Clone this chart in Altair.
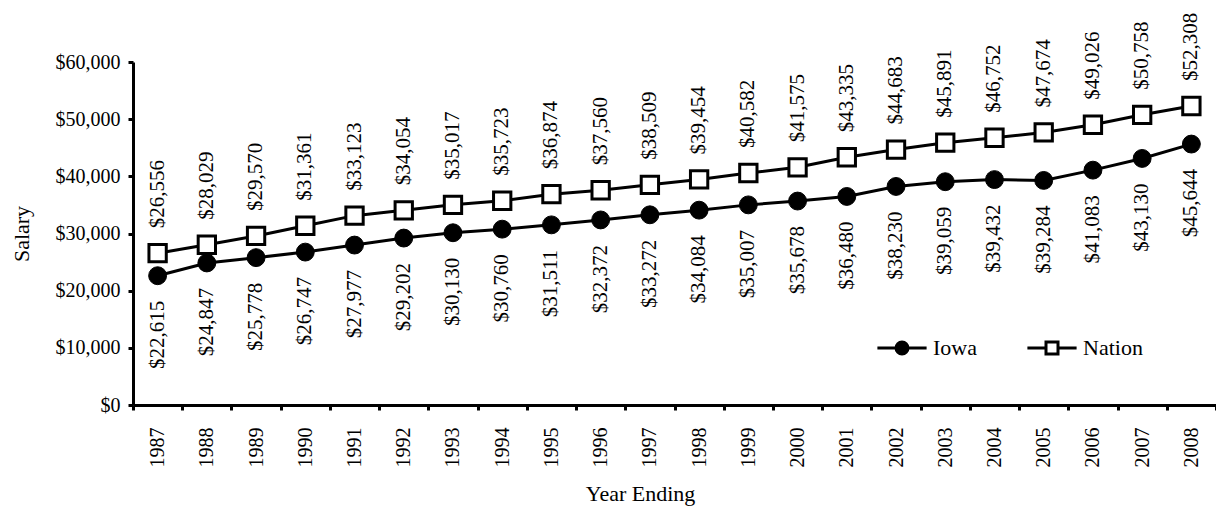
import altair as alt
import pandas as pd

years = [str(y) for y in range(1987, 2009)]
iowa = [22615, 24847, 25778, 26747, 27977, 29202, 30130, 30760, 31511, 32372, 33272,
        34084, 35007, 35678, 36480, 38230, 39059, 39432, 39284, 41083, 43130, 45644]
nation = [26556, 28029, 29570, 31361, 33123, 34054, 35017, 35723, 36874, 37560, 38509,
          39454, 40582, 41575, 43335, 44683, 45891, 46752, 47674, 49026, 50758, 52308]
series_names = ["Iowa", "Nation"]

rows = []
for y, a, b in zip(years, iowa, nation):
    rows.append({"year": y, "series": "Iowa", "salary": a})
    rows.append({"year": y, "series": "Nation", "salary": b})
df = pd.DataFrame(rows)

FONT = "Liberation Serif"

x = alt.X("year:O", scale=alt.Scale(type="band", paddingInner=0, paddingOuter=0),
          axis=alt.Axis(title="Year Ending", labelAngle=270, tickBand="extent",
                        labelPadding=17, labelFontSize=20, titleFontSize=22,
                        titleX=507, titleY=88, titleBaseline="middle"))
y = alt.Y("salary:Q", scale=alt.Scale(domain=[0, 60000], nice=False),
          axis=alt.Axis(title="Salary", values=[0, 10000, 20000, 30000, 40000, 50000, 60000],
                        format="$,.0f", labelFontSize=20, labelPadding=8,
                        titleFontSize=22, titleAngle=270, titleX=-112, titleY=171.5,
                        titleBaseline="middle", titleAlign="center"))

base = alt.Chart(df)

lines = base.mark_line(color="black", strokeWidth=3).encode(x=x, y=y, detail="series:N")

iowa_pts = base.transform_filter(alt.datum.series == "Iowa").mark_point(
    shape="circle", filled=True, fill="black", stroke="black", strokeWidth=1, size=320, opacity=1
).encode(x=x, y=y)

nation_pts = base.transform_filter(alt.datum.series == "Nation").mark_point(
    shape="square", filled=True, fill="white", stroke="black", strokeWidth=3, size=300, opacity=1
).encode(x=x, y=y)

iowa_txt = base.transform_filter(alt.datum.series == "Iowa").mark_text(
    angle=270, align="right", baseline="middle", dx=-25, font=FONT, fontSize=21, color="black"
).encode(x=x, y=y, text=alt.Text("salary:Q", format="$,.0f"))

nation_txt = base.transform_filter(alt.datum.series == "Nation").mark_text(
    angle=270, align="left", baseline="middle", dx=25, font=FONT, fontSize=21, color="black"
).encode(x=x, y=y, text=alt.Text("salary:Q", format="$,.0f"))

iowa_path = "M-4.1,0L-1,0M1,0L4.1,0M-1,0A1,1,0,1,1,1,0A1,1,0,1,1,-1,0Z"
nation_path = "M-4.1,0L-1,0M1,0L4.1,0M-1,-1L1,-1L1,1L-1,1Z"

leg = alt.Legend(title=None, orient="none", direction="horizontal", legendX=758, legendY=275,
                 symbolSize=144, symbolStrokeWidth=3, symbolOpacity=1,
                 labelFont=FONT, labelFontSize=22, labelOffset=20, columnPadding=44, padding=0,
                 labelColor="black")

legend_layer = base.transform_filter("false").mark_point(
    filled=True, strokeWidth=3, opacity=1
).encode(
    shape=alt.Shape("series:N", scale=alt.Scale(domain=series_names, range=[iowa_path, nation_path]), legend=leg),
    fill=alt.Fill("series:N", scale=alt.Scale(domain=series_names, range=["black", "white"]), legend=leg),
    stroke=alt.Stroke("series:N", scale=alt.Scale(domain=series_names, range=["black", "black"]), legend=leg),
)

chart = alt.layer(lines, iowa_pts, nation_pts, iowa_txt, nation_txt, legend_layer).properties(
    width=1083, height=343,
    padding={"left": 125, "top": 54, "right": 0, "bottom": 101},
    autosize=alt.AutoSizeParams(type="none"),
    background="white",
).configure(font=FONT).configure_view(stroke=None).configure_axis(
    grid=False, domainColor="black", domainWidth=3, tickColor="black", tickWidth=3, tickSize=5,
    labelFont=FONT, titleFont=FONT, labelColor="black", titleColor="black", titleFontWeight="normal",
).configure_legend(labelFont=FONT, labelFontSize=22, labelColor="black")

chart.save("out.html", embed_options={"renderer": "svg", "actions": False})
